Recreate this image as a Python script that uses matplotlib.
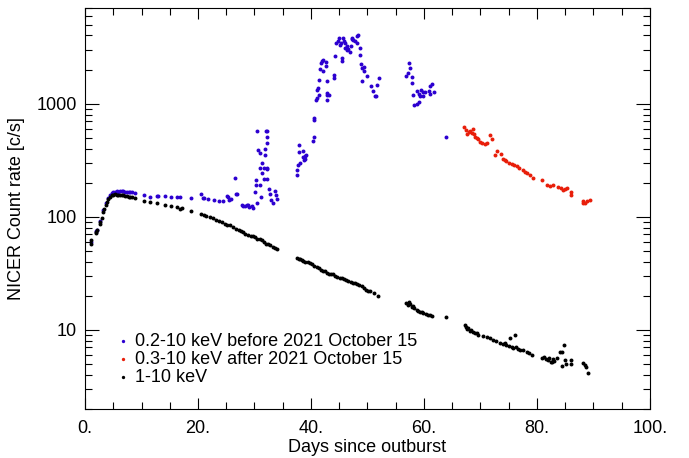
import matplotlib
matplotlib.use("Agg")
import matplotlib.pyplot as plt
import matplotlib.ticker as mticker
from matplotlib import rcParams

rcParams["font.family"] = ["Liberation Sans", "DejaVu Sans"]

# 1-10 keV
HARD_DAYS = [1.0, 1.1, 1.9, 2.0, 2.1, 2.6, 2.7, 2.95, 3.2, 3.4, 3.65, 3.9, 4.1, 4.4, 4.7, 5.0, 5.3, 5.6,
             5.9, 6.2, 6.5, 6.8, 7.1, 7.4, 7.7, 8.0, 8.3, 8.9,
             10.5, 11.5, 12.7, 14.2, 15.2, 16.2, 16.8, 17.1, 18.8, 20.6, 21.0, 21.5, 22.2, 22.7, 23.2, 23.7,
             24.2, 24.8, 25.2, 25.7, 26.2, 26.8, 27.3, 27.6, 28.0, 28.4, 28.9, 29.3, 29.7, 30.1, 30.5, 30.9,
             31.3, 31.7, 32.0, 32.4, 32.8, 33.2, 33.6, 33.9,
             37.5, 37.8, 38.1, 38.4, 38.6, 39.0, 39.4, 39.8, 40.2, 40.6, 41.0, 41.4, 41.8, 42.2, 42.5, 42.9,
             43.2, 43.5, 43.9, 44.2, 44.6, 45.1, 45.4, 45.8, 46.2, 46.6, 47.0, 47.4, 47.8, 48.1, 48.5, 49.0,
             49.4, 49.8, 50.1, 50.5, 51.2, 51.9,
             56.9, 57.1, 57.3, 57.5, 57.8, 58.0, 58.3, 58.7, 59.0, 59.3, 59.6, 59.9, 60.3, 60.7, 61.1, 61.4, 63.9,
             67.3, 67.5, 67.6, 67.8, 68.1, 68.4, 68.7, 69.0, 69.3, 69.6, 70.4, 71.1, 71.6, 72.2, 72.8, 73.5,
             73.9, 74.3, 74.6, 75.0, 75.2, 75.5, 75.8, 76.1, 76.3, 76.6, 77.0, 77.5, 78.2, 78.6, 79.1,
             80.8, 81.2, 81.6, 82.0, 82.2, 82.4, 82.6, 82.8, 83.0, 83.5, 84.1, 84.4, 84.5, 84.8, 85.0, 85.2,
             86.1, 86.1, 88.1, 88.5, 88.7, 89.1]
HARD_RATE = [58, 62, 74, 72, 76, 86, 90, 98, 110, 118, 127, 136, 143, 150, 155, 157, 158, 157,
             157, 156, 155, 155, 154, 152, 151, 150, 149, 147,
             139, 134, 132, 128, 125, 122, 118, 119, 113, 106, 104, 102, 99, 97, 94, 91,
             89, 87, 85, 84, 81, 78, 76, 75, 73, 71, 69, 68, 67, 66, 64, 63,
             62, 60, 58, 57, 56, 54, 53, 52,
             43, 42.5, 42, 41.6, 41, 40, 39.5, 39, 38, 37, 36, 35, 34, 33.5, 33, 32,
             31.5, 31.5, 31, 30, 29.5, 29, 28.5, 28, 27.5, 27, 26.5, 26, 25.8, 25.5, 25, 24.2,
             23.5, 22.5, 22, 22, 21, 20,
             17.2, 16.5, 17.5, 16.8, 16, 16.2, 15.5, 15, 14.8, 14.5, 14.5, 14, 13.8, 13.6, 13.6, 13.3, 13.1,
             11.0, 10.6, 10.1, 10.4, 9.8, 10.0, 9.6, 9.4, 9.3, 9.1, 8.9, 8.6, 8.4, 8.2, 8.0, 7.7,
             7.5, 7.6, 7.4, 7.2, 8.5, 7.0, 6.9, 9.1, 7.0, 6.8, 6.6, 6.7, 6.4, 6.2, 6.0,
             5.6, 5.8, 5.5, 5.4, 5.7, 5.2, 5.2, 5.5, 5.3, 5.6, 6.4, 4.8, 6.4, 7.4, 5.4, 5.0,
             5.4, 5.0, 5.1, 4.9, 4.7, 4.2]

# 0.2-10 keV, before 2021 October 15
SOFT_DAYS = [1.0, 1.9, 2.1, 2.7, 3.2, 3.65, 4.1, 4.4, 4.7, 5.0, 5.3, 5.6, 5.9, 6.2, 6.5, 6.8, 7.1, 7.4,
             7.7, 8.0, 8.3, 8.9,
             10.5, 11.5, 12.7, 13.0, 14.2, 15.2, 16.2, 16.8, 18.8, 20.6, 20.9, 21.0, 21.8, 22.8, 23.7, 24.5,
             25.1, 25.3, 25.5, 25.9, 26.5, 26.7, 26.9, 27.7, 27.9, 28.3, 28.6, 28.9, 29.1, 29.5, 29.8,
             30.1, 30.2, 30.3, 30.4, 30.5, 30.6, 30.9, 31.0, 31.0, 31.1, 31.3, 31.4, 31.6, 31.6, 31.8, 31.9,
             32.0, 32.2, 32.2, 32.2, 32.2, 32.3, 32.3, 32.5, 32.8, 33.0, 33.3, 33.6, 33.8, 33.9,
             37.5, 37.6, 37.7, 37.9, 37.9, 38.0, 38.5, 38.6, 38.8, 38.9, 38.9, 39.2, 40.4, 40.5, 40.5, 40.6,
             40.9, 41.0, 41.1, 41.2, 41.5, 41.5, 41.6, 41.7, 41.9, 42.2, 42.1, 42.6, 42.7, 42.8, 42.8, 42.8,
             42.9, 43.2, 44.0, 44.0, 44.2, 44.4, 44.7, 45.0, 45.2, 45.3, 45.5, 45.5, 45.7, 45.8, 46.0, 46.1,
             46.3, 46.4, 46.6, 46.9, 47.0, 47.2, 47.3, 47.5, 47.8, 48.1, 48.2, 48.4, 48.6, 48.7, 48.9, 49.0,
             49.1, 49.3, 49.4, 50.0, 50.7, 51.0, 51.3, 51.5, 51.6, 52.1,
             56.9, 57.2, 57.4, 57.5, 57.8, 57.8, 58.1, 58.3, 58.7, 58.7, 59.1, 59.2, 59.3, 59.5, 59.8, 59.9,
             60.1, 60.8, 61.0, 61.1, 61.4, 61.8, 63.9]
SOFT_RATE = [60, 75, 77, 91, 115, 131, 148, 156, 163, 166, 167, 168, 167, 169, 170, 168, 167, 166,
             166, 165, 164, 163,
             156, 151, 153, 152, 153, 151, 150, 149, 147, 160, 147, 146, 145, 142, 139, 138,
             154, 150, 142, 144, 220, 159, 159, 128, 124, 124, 126, 128, 122, 124, 120,
             164, 210, 192, 131, 570, 390, 366, 192, 270, 150, 243, 300, 270, 215, 354, 400,
             570, 570, 510, 450, 262, 215, 270, 175, 160, 140, 131, 168, 155, 144,
             236, 260, 285, 370, 435, 300, 380, 340, 315, 325, 345, 350, 465, 510, 750, 720,
             1085, 1120, 1330, 1370, 1180, 1610, 2030, 2290, 2400, 2450, 1930, 2330, 2160, 1085, 1180, 1240,
             1570, 1180, 1800, 1690, 2640, 3400, 3550, 3800, 3300, 3450, 2540, 2390, 3800, 3600, 3450, 3100,
             3250, 2950, 3050, 2880, 3200, 3800, 3700, 3650, 3550, 3920, 3400, 4050, 3100, 2700, 2220, 1570,
             2070, 1930, 2100, 1750, 1420, 1280, 1160, 1170, 1460, 1680,
             1750, 1860, 2270, 2080, 1720, 1520, 1180, 970, 1000, 1280, 1030, 1220, 1170, 1310, 1160, 1260,
             1260, 1300, 1220, 1440, 1490, 1260, 510]

# 0.3-10 keV, after 2021 October 15
LATE_DAYS = [67.1, 67.5, 67.6, 67.9, 68.2, 68.5, 68.6, 68.8, 69.1, 69.3, 69.6, 69.9, 70.2, 70.8, 71.2,
             71.7, 72.1, 72.6, 73.0, 73.6, 73.9, 74.3, 74.6, 75.1, 75.5, 75.9, 76.4, 76.9, 77.5, 77.9,
             78.3, 78.8, 79.3, 80.9, 81.8, 82.3, 82.9, 83.8, 84.2, 84.6, 85.0, 85.3, 86.0, 86.1,
             88.1, 88.2, 88.5, 88.9, 89.3]
LATE_RATE = [620, 580, 540, 560, 570, 550, 595, 540, 510, 500, 485, 455, 450, 440, 445,
             525, 490, 355, 379, 358, 325, 320, 313, 300, 290, 285, 280, 272, 257, 250,
             242, 235, 220, 210, 192, 188, 192, 185, 178, 173, 176, 181, 164, 155,
             131, 137, 132, 137, 141]

BLUE = "#2c00d0"
RED = "#e81e0a"
FS = 13

fig = plt.figure(figsize=(6.89, 4.58), dpi=100)
ax = fig.add_axes([85 / 689, 49 / 458, 565 / 689, 401 / 458])

ms = 8
ax.scatter(SOFT_DAYS, SOFT_RATE, s=ms, color=BLUE, linewidths=0,
           label="0.2-10 keV before 2021 October 15")
ax.scatter(LATE_DAYS, LATE_RATE, s=ms, color=RED, linewidths=0,
           label="0.3-10 keV after 2021 October 15")
ax.scatter(HARD_DAYS, HARD_RATE, s=ms, color="black", linewidths=0, label="1-10 keV")

ax.set_yscale("log")
ax.set_xlim(0, 100)
ax.set_ylim(2, 7000)

ax.xaxis.set_major_locator(mticker.MultipleLocator(20))
ax.xaxis.set_minor_locator(mticker.MultipleLocator(5))
ax.xaxis.set_major_formatter(mticker.FuncFormatter(lambda v, p: f"{v:.0f}."))
ax.yaxis.set_major_locator(mticker.FixedLocator([10, 100, 1000]))
ax.yaxis.set_major_formatter(mticker.FixedFormatter(["10", "100", "1000"]))
ax.yaxis.set_minor_locator(mticker.LogLocator(base=10, subs=range(2, 10)))
ax.yaxis.set_minor_formatter(mticker.NullFormatter())

ax.tick_params(which="both", direction="in", top=True, right=True, labelsize=FS, width=0.8)
ax.tick_params(axis="y", which="major", length=10, pad=6)
ax.tick_params(axis="y", which="minor", length=5)
ax.tick_params(axis="x", which="major", length=8, pad=8)
ax.tick_params(axis="x", which="minor", length=5)
for sp in ax.spines.values():
    sp.set_linewidth(0.8)

ax.set_xlabel("Days since outburst", fontsize=FS, labelpad=1)
ax.set_ylabel("NICER Count rate [c/s]", fontsize=FS, labelpad=8)

ax.legend(loc="lower left", bbox_to_anchor=(0.035, 0.04), frameon=False, fontsize=FS,
          markerscale=0.85, handletextpad=0.1, labelspacing=0.05, borderaxespad=0,
          handlelength=1.2, scatterpoints=1)

fig.savefig("out.png", dpi=100)
